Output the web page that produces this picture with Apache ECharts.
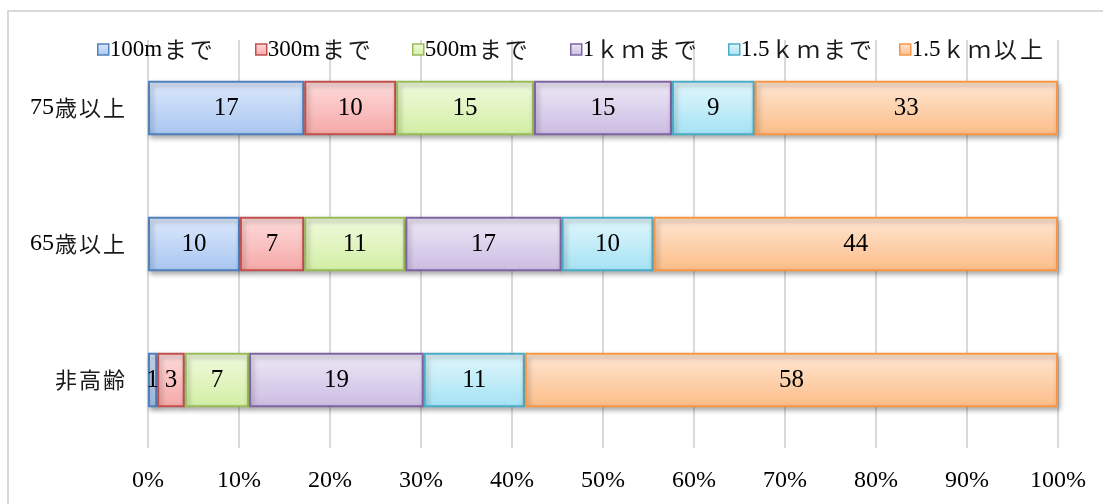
<!DOCTYPE html>
<html><head><meta charset="utf-8">
<script src="https://cdn.jsdelivr.net/npm/echarts@6/dist/echarts.min.js"></script>
<style>html,body{margin:0;padding:0;background:#fff;}#c{width:1103px;height:504px;}</style>
</head><body><div id="c"></div>
<script>
const categories = ['75歳以上', '65歳以上', '非高齢'];
const seriesNames = ['100mまで', '300mまで', '500mまで', '1ｋｍまで', '1.5ｋｍまで', '1.5ｋｍ以上'];
const s100m = [17, 10, 1];
const s300m = [10, 7, 3];
const s500m = [15, 11, 7];
const s1km = [15, 17, 19];
const s15km = [9, 10, 11];
const sOver15km = [33, 44, 58];
const xTicks = ['0%','10%','20%','30%','40%','50%','60%','70%','80%','90%','100%'];

const raw = [s100m, s300m, s500m, s1km, s15km, sOver15km];
const totals = categories.map((_, i) => raw.reduce((a, s) => a + s[i], 0));
const borders = ['#4f81bd', '#c0504d', '#9bbb59', '#8064a2', '#4bacc6', '#f79646'];
const tops = ['#dde9fc', '#ffdcdc', '#f1fbdf', '#efe9f7', '#e2f7fd', '#ffe7d4'];
const bottoms = ['#a9c6f1', '#f5a7a7', '#d2eea4', '#cbbce2', '#a4e2f3', '#fbbd88'];
const legendLeft = [92, 250, 407, 565, 723, 894];
const serif = "'Liberation Serif', 'DejaVu Serif', serif";
const cjk = "'Noto Sans CJK JP', sans-serif";

function grad(i) {
  return new echarts.graphic.LinearGradient(0, 0, 0, 1, [
    { offset: 0, color: tops[i] }, { offset: 1, color: bottoms[i] }]);
}
const CJK = /[\u3000-\u9fff\uff00-\uffef]/;
function richText(s) {
  return Array.from(s).map(ch => CJK.test(ch) ? '{j|' + ch + '}' : '{d|' + ch + '}').join('');
}
function rich(dSize, jSize, pad) {
  return {
    d: { fontFamily: serif, fontSize: dSize, color: '#000' },
    j: { fontFamily: cjk, fontSize: jSize, color: '#1a1a1a', padding: [0, pad, 0, pad] }
  };
}

const chart = echarts.init(document.getElementById('c'));
chart.setOption({
  animation: false,
  backgroundColor: '#fff',
  graphic: [{ type: 'rect', shape: { x: 8, y: 11, width: 1200, height: 600 },
    style: { fill: 'none', stroke: '#d9d9d9', lineWidth: 2 }, z: -10 }],
  legend: seriesNames.map((n, i) => ({
    left: legendLeft[i], top: 33, icon: 'rect', itemWidth: 11, itemHeight: 11,
    formatter: name => richText(name),
    textStyle: { padding: [0, 0, 0, -4], rich: rich(23, 23, 1.5) },
    data: [{ name: n, itemStyle: { color: grad(i), borderColor: borders[i], borderWidth: 1.5 } }]
  })),
  grid: { left: 148, right: 45, top: 40, bottom: 56 },
  xAxis: {
    type: 'value', min: 0, max: 100, interval: 10,
    axisLine: { show: false }, axisTick: { show: false },
    splitLine: { show: true, lineStyle: { color: '#d9d9d9', width: 2 } },
    axisLabel: { margin: 21, fontFamily: serif, fontSize: 24, color: '#000',
      formatter: v => xTicks[Math.round(v / 10)] }
  },
  yAxis: {
    type: 'category', inverse: true, data: categories,
    axisLine: { show: false }, axisTick: { show: false },
    axisLabel: { margin: 22, formatter: v => richText(v), rich: rich(24, 22, 1) }
  },
  series: raw.map((arr, si) => ({
    name: seriesNames[si], type: 'bar', stack: 'total', barWidth: '40%',
    data: arr.map((v, i) => v / totals[i] * 100),
    itemStyle: { color: grad(si), borderColor: borders[si], borderWidth: 2,
      shadowColor: 'rgba(0,0,0,0.35)', shadowBlur: 5, shadowOffsetX: 2, shadowOffsetY: 3 },
    label: { show: true, position: 'inside', fontFamily: serif, fontSize: 25, color: '#000',
      formatter: p => String(arr[p.dataIndex]) }
  }))
});
</script></body></html>
